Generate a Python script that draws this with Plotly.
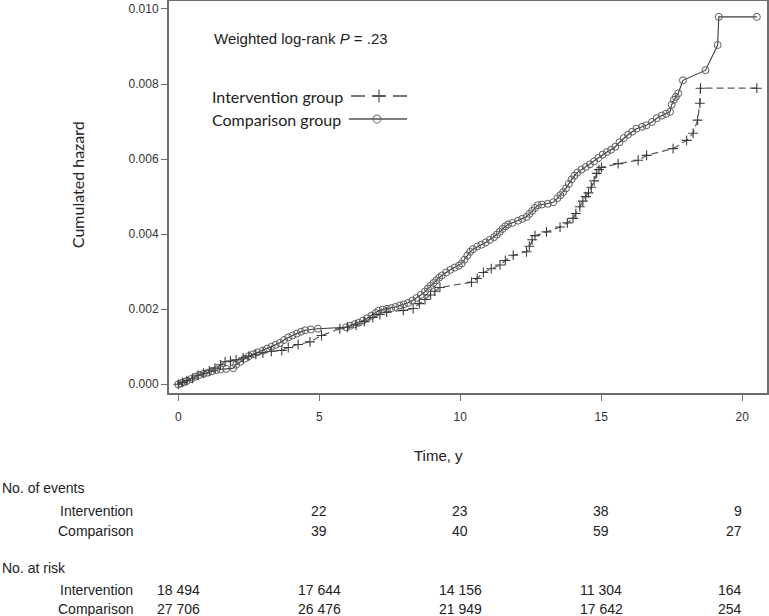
import plotly.graph_objects as go

# ---------------- data ----------------
comp_t = [0, 0.1, 0.2, 0.3, 0.45, 0.6, 0.75, 0.9, 1.05, 1.2, 1.35, 1.5, 1.7, 1.95, 2.05, 2.2, 2.35, 2.5,
          2.65, 2.8, 3.0, 3.15, 3.3, 3.45, 3.6, 3.75, 3.9, 4.05, 4.2, 4.35, 4.5, 4.7, 4.95, 5.95, 6.1,
          6.25, 6.4, 6.55, 6.7, 6.85, 7.0, 7.1, 7.25, 7.4, 7.55, 7.7, 7.85, 8.0, 8.15, 8.3, 8.45, 8.6,
          8.75, 8.85, 8.95, 9.05, 9.15, 9.25, 9.35, 9.5, 9.65, 9.8, 9.95, 10.05, 10.15, 10.25, 10.35,
          10.45, 10.6, 10.75, 10.9, 11.05, 11.2, 11.3, 11.4, 11.5, 11.6, 11.7, 11.85, 12.05, 12.2, 12.35,
          12.45, 12.55, 12.65, 12.75, 12.9, 13.1, 13.3, 13.45, 13.55, 13.65, 13.75, 13.85, 13.95, 14.05,
          14.15, 14.3, 14.45, 14.6, 14.75, 14.9, 15.05, 15.2, 15.35, 15.5, 15.65, 15.8, 15.95, 16.1,
          16.25, 16.45, 16.6, 16.8, 16.97, 17.15, 17.3, 17.44, 17.5, 17.58, 17.65, 17.73, 17.9, 18.7,
          19.13, 19.17, 20.52]
comp_h = [0, 0.00003, 0.00006, 0.00009, 0.00014, 0.0002, 0.00025, 0.00028, 0.00031, 0.00035, 0.00038,
          0.0004, 0.00041, 0.00043, 0.00052, 0.0006, 0.00068, 0.00075, 0.0008, 0.00085, 0.0009, 0.00095,
          0.001, 0.00105, 0.0011, 0.00118, 0.00125, 0.0013, 0.00135, 0.0014, 0.00144, 0.00146, 0.00148,
          0.00152, 0.00156, 0.0016, 0.00164, 0.0017, 0.00176, 0.00183, 0.0019, 0.00196, 0.00199, 0.00201,
          0.00203, 0.00206, 0.0021, 0.00213, 0.00217, 0.00223, 0.0023, 0.00238, 0.00247, 0.00255,
          0.00262, 0.0027, 0.00277, 0.00284, 0.0029, 0.00298, 0.00305, 0.00311, 0.00316, 0.00322,
          0.00332, 0.00343, 0.00353, 0.0036, 0.00367, 0.00372, 0.00378, 0.00385, 0.00392, 0.00399,
          0.00406, 0.00414, 0.00421, 0.00426, 0.0043, 0.00436, 0.00441, 0.00446, 0.00454, 0.00462,
          0.0047, 0.00477, 0.00479, 0.00481, 0.00485, 0.00496, 0.00504, 0.00512, 0.00522, 0.00534,
          0.00546, 0.00556, 0.00564, 0.00572, 0.00579, 0.00586, 0.00594, 0.00603, 0.00612, 0.00619,
          0.00625, 0.00633, 0.00645, 0.00656, 0.00665, 0.00673, 0.00681, 0.00686, 0.0069, 0.00699,
          0.00709, 0.00716, 0.00721, 0.00726, 0.00745, 0.00758, 0.00766, 0.00775, 0.0081, 0.00837,
          0.00904, 0.00979, 0.00979]

int_t = [0, 0.15, 0.3, 0.5, 0.7, 0.9, 1.1, 1.3, 1.5, 1.66, 1.85, 2.05, 2.3, 2.5, 2.75, 3.0, 3.3, 3.67,
         3.9, 4.25, 4.67, 5.08, 5.73, 6.0, 6.3, 6.6, 6.9, 7.15, 7.39, 7.98, 8.33, 8.55, 8.75, 8.95, 9.1,
         9.28, 10.4, 10.6, 10.82, 11.1, 11.41, 11.6, 11.88, 12.35, 12.45, 12.55, 12.65, 13.06, 13.54,
         13.8, 14.0, 14.1, 14.24, 14.35, 14.45, 14.55, 14.65, 14.75, 14.84, 14.92, 15.01, 15.6, 16.31,
         16.61, 17.55, 18.03, 18.26, 18.42, 18.5, 18.52, 20.52]
int_h = [0, 0.00005, 0.0001, 0.00016, 0.00024, 0.0003, 0.00036, 0.00043, 0.00052, 0.0006, 0.00062,
         0.00065, 0.0007, 0.00075, 0.0008, 0.00084, 0.00088, 0.0009, 0.00098, 0.00106, 0.00113, 0.0013,
         0.00148, 0.00152, 0.00158, 0.00167, 0.00178, 0.00186, 0.00192, 0.00197, 0.00202, 0.00215,
         0.00226, 0.00238, 0.00248, 0.00258, 0.00272, 0.00282, 0.00298, 0.00308, 0.00318, 0.0033,
         0.00344, 0.00353, 0.00368, 0.00385, 0.00396, 0.00406, 0.00419, 0.0043, 0.00442, 0.00455,
         0.00473, 0.00488, 0.005, 0.0051, 0.00525, 0.00542, 0.00562, 0.00572, 0.00578, 0.00588,
         0.00597, 0.0061, 0.00628, 0.0065, 0.00669, 0.00704, 0.00749, 0.00789, 0.00789]

x_ticks = [0, 5, 10, 15, 20]
y_ticks = [0.000, 0.002, 0.004, 0.006, 0.008, 0.010]

table_cols = [0, 5, 10, 15, 20]
events_int = ["", "22", "23", "38", "9"]
events_comp = ["", "39", "40", "59", "27"]
risk_int = ["18 494", "17 644", "14 156", "11 304", "164"]
risk_comp = ["27 706", "26 476", "21 949", "17 642", "254"]

# ---------------- layout helpers ----------------
W, H = 769, 616
PL, PR, PT, PB = 169, 767, 1, 392.7   # plot area in pixels


def py(ypx):
    """pixel y -> paper y"""
    return (PB - ypx) / (PB - PT)


def pxp(xpx):
    return (xpx - PL) / (PR - PL)


DARK = "#3c3c3c"
GRAY = "#5a5a5a"
NARROW = "Liberation Sans Narrow, Arial Narrow, Liberation Sans, Arial"
TEXTF = "Liberation Sans, Arial"
CALI = "Lato, Carlito, Calibri, Open Sans"

fig = go.Figure()

fig.add_trace(go.Scatter(
    x=comp_t, y=comp_h, mode="lines+markers", name="Comparison group",
    line=dict(color=DARK, width=1.1),
    marker=dict(symbol="circle-open", size=7, color="#5c5c5c", line=dict(width=1)),
    showlegend=False))

fig.add_trace(go.Scatter(
    x=int_t, y=int_h, mode="lines+markers", name="Intervention group",
    line=dict(color=GRAY, width=1.2, dash="7px,4px"),
    marker=dict(symbol="cross-thin", size=7, color=DARK, line=dict(width=1.1, color=DARK)),
    showlegend=False))

# legend samples on a pixel-coordinate overlay axis (text left, symbol right as in the original)
fig.add_trace(go.Scatter(
    x=[351, 379, 407], y=[96, 96, 96], xaxis="x2", yaxis="y2", mode="lines+markers",
    line=dict(color="#777777", width=2, dash="14px,7px"),
    marker=dict(symbol="cross-thin", size=[0, 9, 0], color=DARK, line=dict(width=1.5, color=DARK)),
    showlegend=False, hoverinfo="skip"))
fig.add_trace(go.Scatter(
    x=[349, 377, 407], y=[119, 119, 119], xaxis="x2", yaxis="y2", mode="lines+markers",
    line=dict(color="#555555", width=1.5),
    marker=dict(symbol="circle-open", size=[0, 8, 0], color="#555555", line=dict(width=1.2)),
    showlegend=False, hoverinfo="skip"))

ann = []
ann.append(dict(text="Weighted log-rank <i>P</i> = .23", x=pxp(212), y=py(38), xref="paper", yref="paper",
                xanchor="left", yanchor="middle", showarrow=False,
                font=dict(family=TEXTF, size=15, color="#222")))
ann.append(dict(text="Intervention group", x=pxp(345), y=py(96), xref="paper", yref="paper",
                xanchor="right", yanchor="middle", showarrow=False,
                font=dict(family=CALI, size=16, color="#222")))
ann.append(dict(text="Comparison group", x=pxp(343), y=py(119), xref="paper", yref="paper",
                xanchor="right", yanchor="middle", showarrow=False,
                font=dict(family=CALI, size=16, color="#222")))
ann.append(dict(text="Cumulated hazard", x=pxp(77), y=py(185), xref="paper", yref="paper",
                xanchor="center", yanchor="middle", textangle=-90, showarrow=False,
                font=dict(family=CALI, size=16, color="#222")))
ann.append(dict(text="Time, y", x=pxp(438), y=py(455), xref="paper", yref="paper",
                xanchor="center", yanchor="middle", showarrow=False,
                font=dict(family=TEXTF, size=15, color="#222")))

# table
row_y = {"ev_head": 488, "ev_int": 511, "ev_comp": 531, "rk_head": 568, "rk_int": 590, "rk_comp": 609}
tf = dict(family=NARROW, size=14, color="#222")
ann.append(dict(text="No. of events", x=pxp(0), y=py(row_y["ev_head"]), xref="paper", yref="paper",
                xanchor="left", yanchor="middle", showarrow=False, font=tf))
ann.append(dict(text="No. at risk", x=pxp(0), y=py(row_y["rk_head"]), xref="paper", yref="paper",
                xanchor="left", yanchor="middle", showarrow=False, font=tf))
for lab, key in [("Intervention", "ev_int"), ("Comparison", "ev_comp"),
                 ("Intervention", "rk_int"), ("Comparison", "rk_comp")]:
    ann.append(dict(text=lab, x=pxp(135), y=py(row_y[key]), xref="paper", yref="paper",
                    xanchor="right", yanchor="middle", showarrow=False, font=tf))

for vals, key in [(events_int, "ev_int"), (events_comp, "ev_comp"),
                  (risk_int, "rk_int"), (risk_comp, "rk_comp")]:
    for i, (c, v) in enumerate(zip(table_cols, vals)):
        if not v:
            continue
        last = i == len(table_cols) - 1
        ann.append(dict(text=v, x=c + (0.07 if last else 0), y=py(row_y[key]), xref="x", yref="paper",
                        xanchor="right" if last else "center", yanchor="middle",
                        showarrow=False, font=tf))

x0 = -0.33
x1 = 20.88
y0 = -0.000232
y1 = 0.010213

fig.update_layout(
    width=W, height=H,
    margin=dict(l=PL, r=W - PR, t=PT, b=H - PB, pad=0, autoexpand=False),
    paper_bgcolor="white", plot_bgcolor="white",
    showlegend=False,
    annotations=ann,
    xaxis=dict(range=[x0, x1], tickvals=x_ticks, ticktext=[str(v) for v in x_ticks],
               automargin=False, ticklabelstandoff=6,
               showgrid=False, zeroline=False, showline=True, linecolor="#6e6e6e", linewidth=2,
               mirror=True, ticks="outside", ticklen=6, tickcolor="#6e6e6e", tickwidth=1.3,
               tickfont=dict(family=NARROW, size=12, color="#333")),
    yaxis=dict(range=[y0, y1], tickvals=y_ticks, ticktext=[f"{v:.3f}" for v in y_ticks],
               automargin=False,
               showgrid=False, zeroline=False, showline=True, linecolor="#6e6e6e", linewidth=2,
               mirror=True, ticks="outside", ticklen=6, tickcolor="#6e6e6e", tickwidth=1.3,
               tickfont=dict(family=NARROW, size=12, color="#333")),
    xaxis2=dict(overlaying="x", anchor="y2", range=[PL, PR], visible=False),
    yaxis2=dict(overlaying="y", anchor="x2", range=[PB, PT], visible=False),
)

fig.write_html("out.html", config={"displayModeBar": False},
               post_script="document.body.style.margin='0';document.body.style.overflow='hidden';")
